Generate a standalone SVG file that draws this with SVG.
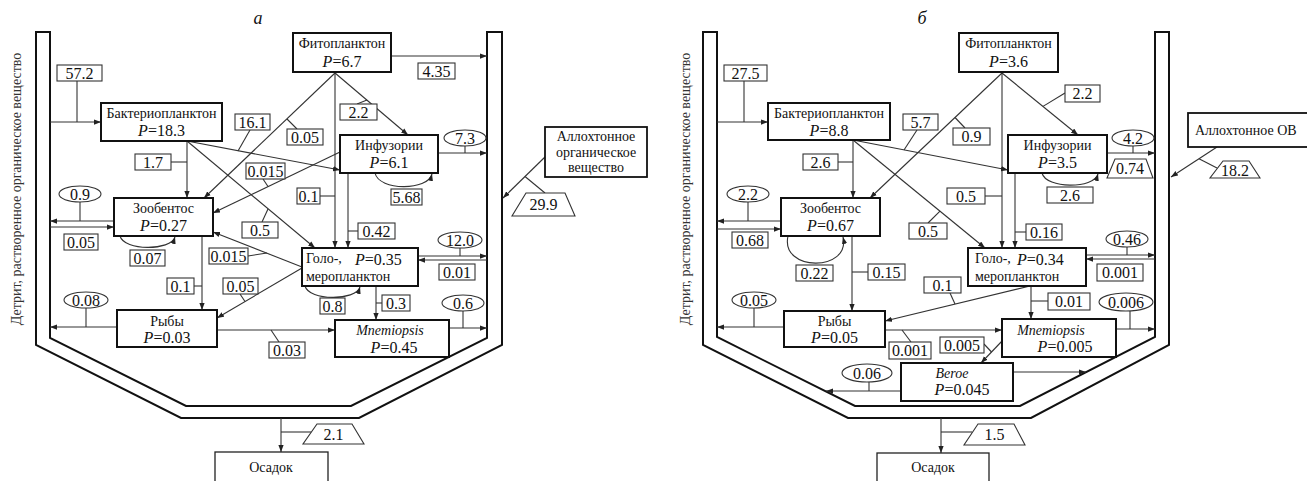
<svg xmlns="http://www.w3.org/2000/svg" width="1307" height="481" viewBox="0 0 1307 481">
<defs>
<marker id="ah" viewBox="0 0 8 6" refX="8" refY="3" markerWidth="7" markerHeight="5.5" orient="auto" markerUnits="userSpaceOnUse"><path d="M0,0 L8,3 L0,6 Z" fill="#222"/></marker>
<style>
.vessel{fill:none;stroke:#111;stroke-width:2}
.node rect{fill:#fff;stroke:#111;stroke-width:2}
.plain rect{fill:#fff;stroke:#222;stroke-width:1.3}
.nm{font-family:"Liberation Serif","Times New Roman",serif;font-size:14px;fill:#111;text-anchor:middle}
.pv{font-family:"Liberation Serif","Times New Roman",serif;font-size:16px;fill:#111;text-anchor:middle}
text.st{text-anchor:start}
.it{font-style:italic}
.ln path{fill:none;stroke:#333;stroke-width:1.1}
.ln path.ar{marker-end:url(#ah)}
.lb rect,.lb ellipse,.lb polygon{fill:#fff;stroke:#333;stroke-width:1.1}
.lb text{font-family:"Liberation Serif","Times New Roman",serif;font-size:16px;fill:#111;text-anchor:middle}
.side{font-family:"Liberation Serif","Times New Roman",serif;font-size:14px;fill:#333;text-anchor:middle}
.title{font-family:"Liberation Serif","Times New Roman",serif;font-size:18px;font-style:italic;fill:#111;text-anchor:middle}
</style>
</defs>
<rect width="1307" height="481" fill="#fff"/>

<!-- ===== Panel а ===== -->
<text class="title" x="258" y="24">а</text>
<text class="side" transform="translate(21,189) rotate(-90)">Детрит, растворенное органическое вещество</text>
<path class="vessel" d="M36,32 H50 V338 L186,406 H351 L487,338 V32 H502 V345 L359,418 H181 L36,345 Z"/>

<g id="connectors-a" class="ln">
<path class="ar" d="M50,122 H101"/>
<path d="M77,81 V122"/>
<path class="ar" d="M391,56 H487"/>
<path class="ar" d="M335,73 L204,198"/>
<path d="M297,129 L287,119"/>
<path class="ar" d="M335,73 L408,135"/>
<path d="M357,104 L367,100"/>
<path class="ar" d="M335,73 V248"/>
<path d="M320,196 H335"/>
<path class="ar" d="M187,141 V198"/>
<path d="M171,162 H187"/>
<path class="ar" d="M187,141 L340,170"/>
<path d="M250,130 L238,151"/>
<path class="ar" d="M187,141 L315,248"/>
<path d="M262,222 L268,209"/>
<path class="ar" d="M340,152 L213,213"/>
<path d="M263,179 L268,186.5"/>
<path class="ar" d="M348,173 V248"/>
<path d="M348,231 H358"/>
<path class="ar" d="M438,153 H487"/>
<path d="M465,146 V153"/>
<path class="ar" d="M375,173 C379,191 428,191 432,174"/>
<path class="ar" d="M546,156 L503,198"/>
<path d="M525,176.5 L545,193"/>
<path class="ar" d="M114,221 H50"/>
<path d="M80,202 V221"/>
<path class="ar" d="M50,227 H114"/>
<path class="ar" d="M120,236 C124,251 171,251 175,237"/>
<path class="ar" d="M202,236 V310"/>
<path d="M194,286 H202"/>
<path class="ar" d="M302,267 L213,232"/>
<path d="M248,256 L267,253"/>
<path class="ar" d="M302,268 L217,318"/>
<path d="M240,294 L245,301.5"/>
<path class="ar" d="M418,256 H487"/>
<path d="M460,248 V256"/>
<path class="ar" d="M487,260 H418"/>
<path class="ar" d="M305,286 C309,301 356,301 360,287"/>
<path class="ar" d="M376,286 V320"/>
<path d="M376,303 H382"/>
<path class="ar" d="M117,327 H50"/>
<path d="M86,308 V327"/>
<path class="ar" d="M217,330 H335"/>
<path d="M271,330 L279,342"/>
<path class="ar" d="M449,328 H487"/>
<path d="M463,311 V328"/>
<path class="ar" d="M281,418 V452"/>
<path d="M281,432 H311"/>
</g>

<g id="flow-labels-a" class="lb">
<rect x="57" y="65" width="45" height="16"/><text x="79.5" y="78.5">57.2</text>
<rect x="418" y="63" width="37" height="16"/><text x="436.5" y="76.5">4.35</text>
<rect x="287" y="129" width="36" height="16"/><text x="305" y="142.5">0.05</text>
<rect x="340" y="104" width="37" height="16"/><text x="358.5" y="117.5">2.2</text>
<rect x="297" y="188" width="23" height="16"/><text x="308.5" y="201.5">0.1</text>
<rect x="135" y="154" width="36" height="16"/><text x="153" y="167.5">1.7</text>
<rect x="235" y="114" width="35" height="16"/><text x="252.5" y="127.5">16.1</text>
<rect x="242" y="222" width="36" height="16"/><text x="260" y="235.5">0.5</text>
<rect x="246" y="163" width="39" height="16"/><text x="265.5" y="176.5">0.015</text>
<rect x="358" y="223" width="37" height="16"/><text x="376.5" y="236.5">0.42</text>
<rect x="391" y="189" width="31" height="16"/><text x="406.5" y="202.5">5.68</text>
<rect x="64" y="234" width="34" height="16"/><text x="81" y="247.5">0.05</text>
<rect x="130" y="250" width="35" height="16"/><text x="147.5" y="263.5">0.07</text>
<rect x="167" y="278" width="27" height="16"/><text x="180.5" y="291.5">0.1</text>
<rect x="209" y="248" width="39" height="16"/><text x="228.5" y="261.5">0.015</text>
<rect x="223" y="278" width="35" height="16"/><text x="240.5" y="291.5">0.05</text>
<rect x="439" y="264" width="36" height="16"/><text x="457" y="277.5">0.01</text>
<rect x="320" y="298" width="25" height="16"/><text x="332.5" y="311.5">0.8</text>
<rect x="382" y="295" width="28" height="16"/><text x="396" y="308.5">0.3</text>
<rect x="269" y="342" width="36" height="16"/><text x="287" y="355.5">0.03</text>
<ellipse cx="465" cy="138" rx="21" ry="8"/><text x="465" y="143.5">7.3</text>
<ellipse cx="80" cy="194" rx="21" ry="8"/><text x="80" y="199.5">0.9</text>
<ellipse cx="460" cy="240" rx="22" ry="8"/><text x="460" y="245.5">12.0</text>
<ellipse cx="86" cy="300" rx="22" ry="8"/><text x="86" y="305.5">0.08</text>
<ellipse cx="463" cy="303" rx="21" ry="8"/><text x="463" y="308.5">0.6</text>
<polygon points="512,216 575,216 565,193 526,193"/><text x="543.5" y="210">29.9</text>
<polygon points="303,444 364,444 352,424 317,424"/><text x="333.5" y="439.5">2.1</text>
</g>

<g id="a-phyto" class="node"><rect x="293" y="33" width="98" height="39"/><text class="nm" x="342" y="48">Фитопланктон</text><text class="pv" x="342" y="67"><tspan class="it">P</tspan>=6.7</text></g>
<g id="a-bacterio" class="node"><rect x="101" y="103" width="121" height="38"/><text class="nm" x="161.5" y="118">Бактериопланктон</text><text class="pv" x="161.5" y="136"><tspan class="it">P</tspan>=18.3</text></g>
<g id="a-ciliates" class="node"><rect x="340" y="135" width="98" height="38"/><text class="nm" x="389" y="150">Инфузории</text><text class="pv" x="389" y="168"><tspan class="it">P</tspan>=6.1</text></g>
<g id="a-zoobenthos" class="node"><rect x="114" y="198" width="99" height="38"/><text class="nm" x="163.5" y="213">Зообентос</text><text class="pv" x="163.5" y="231"><tspan class="it">P</tspan>=0.27</text></g>
<g id="a-zooplankton" class="node"><rect x="302" y="248" width="116" height="38"/><text class="nm st" x="306" y="263">Голо-,</text><text class="pv st" x="355" y="265"><tspan class="it">P</tspan>=0.35</text><text class="nm st" x="306" y="281">меропланктон</text></g>
<g id="a-fish" class="node"><rect x="117" y="310" width="100" height="37"/><text class="nm" x="167" y="326">Рыбы</text><text class="pv" x="167" y="343"><tspan class="it">P</tspan>=0.03</text></g>
<g id="a-mnemiopsis" class="node"><rect x="335" y="320" width="114" height="37"/><text class="nm it" x="390" y="335">Mnemiopsis</text><text class="pv" x="394" y="353"><tspan class="it">P</tspan>=0.45</text></g>
<g id="a-allochthonous" class="node"><rect x="545" y="127" width="102" height="50" style="stroke-width:1.8"/><text class="nm" x="596" y="141">Аллохтонное</text><text class="nm" x="596" y="157">органическое</text><text class="nm" x="596" y="172">вещество</text></g>
<g id="a-sediment" class="plain"><rect x="215" y="452" width="113" height="32"/><text class="nm" x="271" y="472">Осадок</text></g>

<!-- ===== Panel б ===== -->
<text class="title" x="922" y="24">б</text>
<text class="side" transform="translate(690,189) rotate(-90)">Детрит, растворенное органическое вещество</text>
<path class="vessel" d="M703,32 H717 V337 L855,406 H1020 L1155,337 V32 H1169 V345 L1031,418 H848 L703,345 Z"/>

<g id="connectors-b" class="ln">
<path class="ar" d="M717,122 H768"/>
<path d="M744,81 V122"/>
<path class="ar" d="M1002,73 L870,198"/>
<path d="M955,117.5 L965,128"/>
<path class="ar" d="M1002,73 L1078,135"/>
<path d="M1065,93 L1043,106.4"/>
<path class="ar" d="M1002,73 V248"/>
<path d="M985,196 H1002"/>
<path class="ar" d="M853,140 V198"/>
<path d="M838,162 H853"/>
<path class="ar" d="M853,140 L1008,170"/>
<path d="M917,130 L904,150"/>
<path class="ar" d="M853,140 L985,248"/>
<path d="M928,223 L940,211.2"/>
<path class="ar" d="M1015,173 V248"/>
<path d="M1015,232 H1026"/>
<path class="ar" d="M1107,153 H1155"/>
<path d="M1133,146 V153"/>
<path class="ar" d="M1042,173 C1046,189 1094,189 1098,174"/>
<path class="ar" d="M1217,147 L1171,177"/>
<path d="M1199,158.7 L1217,168"/>
<path class="ar" d="M781,221 H717"/>
<path d="M748,202 V221"/>
<path class="ar" d="M717,229 H781"/>
<path class="ar" d="M788,236 C780,272 851,272 843,237"/>
<path class="ar" d="M852,236 V311"/>
<path d="M852,272 H868"/>
<path class="ar" d="M1030,286 L885,321"/>
<path d="M950,293 L955,304"/>
<path class="ar" d="M1086,255 H1155"/>
<path d="M1127,247 V255"/>
<path class="ar" d="M1155,259 H1086"/>
<path class="ar" d="M1031,286 V319"/>
<path d="M1031,301 H1048"/>
<path class="ar" d="M784,327 H717"/>
<path d="M754,308 V327"/>
<path class="ar" d="M885,330 H1002"/>
<path d="M902,330 L911,342"/>
<path class="ar" d="M1116,329 H1155"/>
<path d="M1130,311 V329"/>
<path class="ar" d="M1003,340 L981,363"/>
<path d="M984,344 L991.5,352"/>
<path class="ar" d="M1013,372 H1086"/>
<path class="ar" d="M901,391 H826"/>
<path d="M869,382 V391"/>
<path class="ar" d="M941,418 V453"/>
<path d="M941,432 H972"/>
</g>

<g id="flow-labels-b" class="lb">
<rect x="724" y="65" width="43" height="16"/><text x="745.5" y="78.5">27.5</text>
<rect x="953" y="128" width="37" height="17"/><text x="971.5" y="142">0.9</text>
<rect x="1065" y="85" width="35" height="17"/><text x="1082.5" y="99">2.2</text>
<rect x="947" y="188" width="38" height="16"/><text x="966" y="201.5">0.5</text>
<rect x="803" y="154" width="35" height="16"/><text x="820.5" y="167.5">2.6</text>
<rect x="903" y="114" width="35" height="16"/><text x="920.5" y="127.5">5.7</text>
<rect x="909" y="223" width="38" height="16"/><text x="928" y="236.5">0.5</text>
<rect x="1026" y="224" width="36" height="16"/><text x="1044" y="237.5">0.16</text>
<rect x="1047" y="187" width="46" height="16"/><text x="1070" y="200.5">2.6</text>
<rect x="732" y="232" width="36" height="16"/><text x="750" y="245.5">0.68</text>
<rect x="796" y="265" width="37" height="16"/><text x="814.5" y="278.5">0.22</text>
<rect x="868" y="264" width="37" height="16"/><text x="886.5" y="277.5">0.15</text>
<rect x="924" y="277" width="37" height="16"/><text x="942.5" y="290.5">0.1</text>
<rect x="1097" y="264" width="46" height="17"/><text x="1120" y="278">0.001</text>
<rect x="1048" y="293" width="42" height="17"/><text x="1069" y="307">0.01</text>
<rect x="889" y="342" width="42" height="17"/><text x="910" y="356">0.001</text>
<rect x="940" y="337" width="44" height="16"/><text x="962" y="350.5">0.005</text>
<ellipse cx="1133" cy="138" rx="21" ry="8"/><text x="1133" y="143.5">4.2</text>
<ellipse cx="748" cy="194" rx="21" ry="8"/><text x="748" y="199.5">2.2</text>
<ellipse cx="1127" cy="239" rx="21" ry="8"/><text x="1127" y="244.5">0.46</text>
<ellipse cx="754" cy="300" rx="22" ry="8"/><text x="754" y="305.5">0.05</text>
<ellipse cx="1126" cy="302" rx="27" ry="9"/><text x="1126" y="307.5">0.006</text>
<ellipse cx="867" cy="373" rx="25" ry="9"/><text x="867" y="378.5">0.06</text>
<polygon points="1107,178 1153,178 1146,159 1115,159"/><text x="1130" y="174">0.74</text>
<polygon points="1210,178 1260,178 1249,161 1223,161"/><text x="1235" y="175.5">18.2</text>
<polygon points="964,445 1025,445 1014,424 978,424"/><text x="994.5" y="440">1.5</text>
</g>

<g id="b-phyto" class="node"><rect x="959" y="33" width="99" height="39"/><text class="nm" x="1008.5" y="48">Фитопланктон</text><text class="pv" x="1008.5" y="67"><tspan class="it">P</tspan>=3.6</text></g>
<g id="b-bacterio" class="node"><rect x="768" y="103" width="122" height="37"/><text class="nm" x="829" y="118">Бактериопланктон</text><text class="pv" x="829" y="136"><tspan class="it">P</tspan>=8.8</text></g>
<g id="b-ciliates" class="node"><rect x="1008" y="135" width="99" height="38"/><text class="nm" x="1057.5" y="150">Инфузории</text><text class="pv" x="1057.5" y="168"><tspan class="it">P</tspan>=3.5</text></g>
<g id="b-zoobenthos" class="node"><rect x="781" y="198" width="99" height="38"/><text class="nm" x="830.5" y="213">Зообентос</text><text class="pv" x="830.5" y="231"><tspan class="it">P</tspan>=0.67</text></g>
<g id="b-zooplankton" class="node"><rect x="968" y="248" width="118" height="38"/><text class="nm st" x="975" y="263">Голо-,</text><text class="pv st" x="1017" y="265"><tspan class="it">P</tspan>=0.34</text><text class="nm st" x="975" y="281">меропланктон</text></g>
<g id="b-fish" class="node"><rect x="784" y="311" width="101" height="36"/><text class="nm" x="834.5" y="326">Рыбы</text><text class="pv" x="834.5" y="343"><tspan class="it">P</tspan>=0.05</text></g>
<g id="b-mnemiopsis" class="node"><rect x="1002" y="319" width="114" height="38"/><text class="nm it" x="1051" y="335">Mnemiopsis</text><text class="pv" x="1065" y="352"><tspan class="it">P</tspan>=0.005</text></g>
<g id="b-beroe" class="node"><rect x="901" y="363" width="112" height="38"/><text class="nm it" x="952" y="378">Beroe</text><text class="pv" x="962" y="395"><tspan class="it">P</tspan>=0.045</text></g>
<g id="b-allochthonous" class="node"><rect x="1188" y="113" width="132" height="34" style="stroke-width:1.8"/><text class="nm st" x="1195" y="135">Аллохтонное ОВ</text></g>
<g id="b-sediment" class="plain"><rect x="877" y="453" width="112" height="31"/><text class="nm" x="933" y="472">Осадок</text></g>
</svg>
